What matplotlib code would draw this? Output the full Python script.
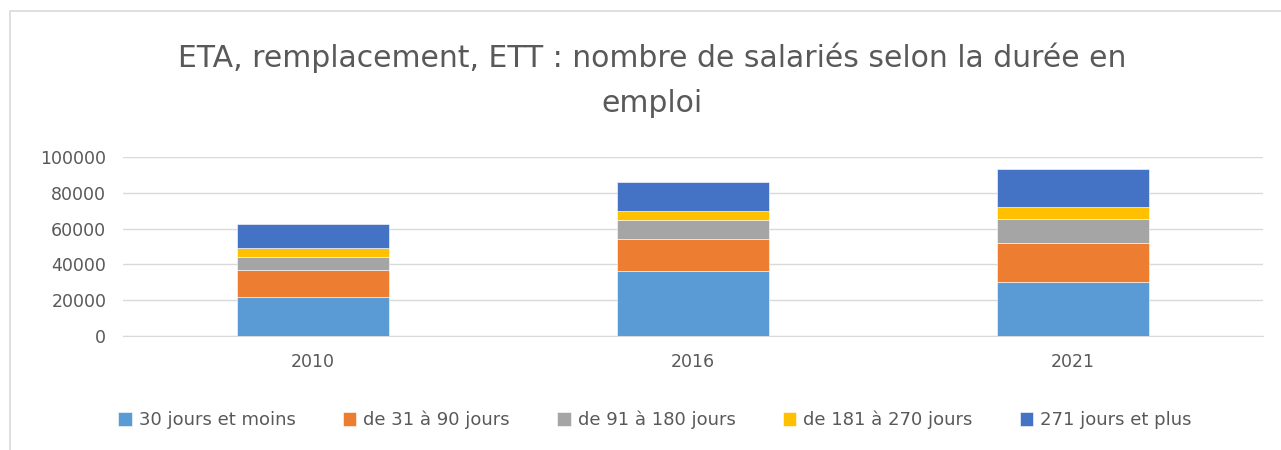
import matplotlib.pyplot as plt
import numpy as np
from matplotlib.patches import Rectangle

# Data
years = ["2010", "2016", "2021"]
labels = ["30 jours et moins", "de 31 à 90 jours", "de 91 à 180 jours",
          "de 181 à 270 jours", "271 jours et plus"]
j30 = [21900, 36200, 30100]
j31_90 = [14700, 18200, 22100]
j91_180 = [7600, 10400, 13400]
j181_270 = [4700, 5200, 6300]
j271 = [13700, 16300, 21300]
colors = ["#5B9BD5", "#ED7D31", "#A5A5A5", "#FFC000", "#4472C4"]

series = [j30, j31_90, j91_180, j181_270, j271]

fig = plt.figure(figsize=(12.81, 4.5), dpi=100)
# chart frame (light border)
fig.patches.append(Rectangle((10 / 1281, -0.01), 1.0, 1 - 11 / 450 + 0.01,
                             transform=fig.transFigure, fill=False,
                             edgecolor="#D9D9D9", linewidth=1.2))

ax = fig.add_axes([123 / 1281, 1 - 336 / 450, (1263 - 123) / 1281, (336 - 157) / 450])
x = np.arange(len(years))
bottom = np.zeros(len(years))
for vals, lab, col in zip(series, labels, colors):
    ax.bar(x, vals, width=0.4, bottom=bottom, color=col, label=lab,
           edgecolor="white", linewidth=0.4, zorder=3)
    bottom += np.array(vals)

ax.set_xlim(-0.5, 2.5)
ax.set_ylim(0, 100000)
ax.set_yticks(range(0, 100001, 20000))
ax.set_xticks(x)
ax.set_xticklabels(years)
ax.grid(axis="y", color="#D9D9D9", linewidth=1, zorder=0)
for s in ["top", "right", "left"]:
    ax.spines[s].set_visible(False)
ax.spines["bottom"].set_color("#D9D9D9")
ax.tick_params(axis="both", length=0, labelsize=12.5, colors="#595959", pad=12)
ax.tick_params(axis="x", pad=12)

title_x = 652 / 1281
fig.text(title_x, 1 - 58 / 450, "ETA, remplacement, ETT : nombre de salariés selon la durée en",
         ha="center", va="center", fontsize=21.5, color="#595959")
fig.text(title_x, 1 - 103 / 450, "emploi", ha="center", va="center",
         fontsize=21.5, color="#595959")

fig.legend(loc="center", bbox_to_anchor=(655 / 1281, 1 - 420 / 450), ncol=5,
           frameon=False, fontsize=13, handlelength=0.75, handleheight=0.75,
           handletextpad=0.4, columnspacing=2.6, labelcolor="#595959")

fig.savefig("out.png", dpi=100)
